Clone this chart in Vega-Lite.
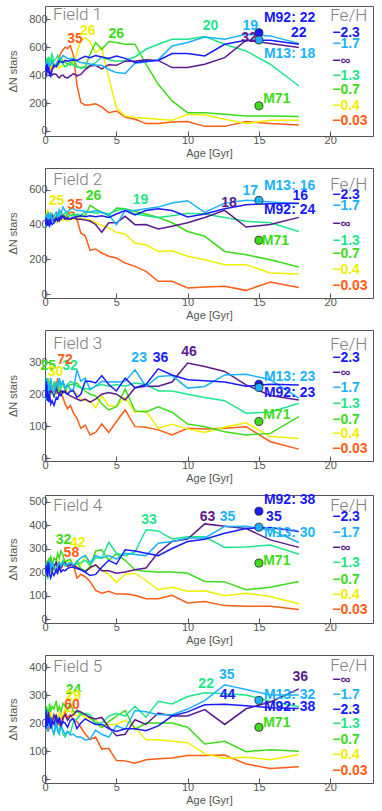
{
"$schema": "https://vega.github.io/schema/vega-lite/v6.json",
"padding": {"left": 7, "right": 0, "top": 5, "bottom": 0},
"background": "white",
"config": {
 "view": {"stroke": "#555", "strokeWidth": 1},
 "concat": {"spacing": 8},
 "axis": {"domain": false, "grid": false, "tickSize": -5, "tickColor": "#555", "labelColor": "#555", "labelFontSize": 11, "labelFont": "Liberation Sans", "titleFont": "Liberation Sans", "titleFontSize": 11, "titleFontWeight": "normal", "titleColor": "#555", "labelPadding": 3, "labelOverlap": false, "labelFlush": false, "labelBound": false},
 "axisX": {"titlePadding": 2},
 "axisY": {"titlePadding": 10}
},
"datasets": {
"L1": [
{"a":0.05,"A":430,"B":470,"C":450,"D":420,"E":440,"F":450,"G":410},
{"a":0.08,"A":470,"B":450,"C":430,"D":480,"E":460,"F":420,"G":440},
{"a":0.1,"A":400,"B":490,"C":460,"D":450,"E":500,"F":470,"G":420},
{"a":0.13,"A":450,"B":460,"C":420,"D":520,"E":470,"F":440,"G":450},
{"a":0.16,"A":480,"B":500,"C":440,"D":470,"E":520,"F":480,"G":430},
{"a":0.2,"A":420,"B":470,"C":450,"D":500,"E":480,"F":460,"G":470},
{"a":0.25,"A":460,"B":450,"C":430,"D":530,"E":530,"F":500,"G":440},
{"a":0.32,"A":400,"B":480,"C":410,"D":480,"E":490,"F":470,"G":460},
{"a":0.4,"A":390,"B":470,"C":420,"D":510,"E":500,"F":450,"G":430},
{"a":0.5,"A":440,"B":500,"C":400,"D":550,"E":510,"F":490,"G":470},
{"a":0.63,"A":470,"B":460,"C":410,"D":500,"E":480,"F":460,"G":450},
{"a":0.79,"A":460,"B":480,"C":405,"D":520,"E":460,"F":480,"G":480},
{"a":0.89,"A":480,"B":490,"C":390,"D":540,"E":470,"F":470,"G":500},
{"a":1.0,"A":500,"B":510,"C":380,"D":510,"E":480,"F":450,"G":530},
{"a":1.12,"A":495,"B":520,"C":395,"D":500,"E":520,"F":460,"G":560},
{"a":1.26,"A":490,"B":540,"C":400,"D":480,"E":500,"F":470,"G":580},
{"a":1.41,"A":505,"B":530,"C":385,"D":460,"E":490,"F":460,"G":600},
{"a":1.58,"A":500,"B":520,"C":380,"D":470,"E":480,"F":480,"G":590},
{"a":1.78,"A":505,"B":515,"C":395,"D":490,"E":470,"F":490,"G":610},
{"a":2.0,"A":510,"B":520,"C":410,"D":470,"E":520,"F":480,"G":540},
{"a":2.24,"A":505,"B":500,"C":395,"D":460,"E":460,"F":560,"G":330},
{"a":2.51,"A":520,"B":490,"C":405,"D":450,"E":455,"F":650,"G":205},
{"a":2.82,"A":535,"B":485,"C":440,"D":455,"E":460,"F":669,"G":185},
{"a":3.16,"A":525,"B":480,"C":465,"D":470,"E":550,"F":640,"G":188},
{"a":3.55,"A":540,"B":470,"C":470,"D":490,"E":633,"F":561,"G":195},
{"a":3.98,"A":530,"B":470,"C":445,"D":530,"E":585,"F":597,"G":172},
{"a":4.47,"A":520,"B":440,"C":475,"D":510,"E":640,"F":382,"G":131},
{"a":5.01,"A":537,"B":418,"C":470,"D":500,"E":633,"F":167,"G":143},
{"a":5.62,"A":520,"B":411,"C":500,"D":505,"E":621,"F":107,"G":100},
{"a":6.31,"A":490,"B":485,"C":500,"D":530,"E":621,"F":96,"G":84},
{"a":7.08,"A":500,"B":494,"C":510,"D":585,"E":478,"F":91,"G":53},
{"a":7.94,"A":505,"B":510,"C":505,"D":621,"E":334,"F":84,"G":53},
{"a":8.91,"A":554,"B":609,"C":454,"D":657,"E":215,"F":76,"G":64},
{"a":10.0,"A":554,"B":633,"C":454,"D":657,"E":131,"F":119,"G":67},
{"a":11.2,"A":537,"B":673,"C":478,"D":676,"E":131,"F":115,"G":33},
{"a":12.6,"A":621,"B":657,"C":525,"D":621,"E":119,"F":84,"G":33},
{"a":14.1,"A":650,"B":692,"C":650,"D":573,"E":107,"F":53,"G":67},
{"a":15.8,"A":650,"B":681,"C":626,"D":478,"E":107,"F":76,"G":53},
{"a":17.8,"A":621,"B":626,"C":597,"D":322,"E":103,"F":76,"G":43}
],
"L2": [
{"a":0.05,"A":400,"B":420,"C":440,"D":410,"E":430,"F":420,"G":430},
{"a":0.08,"A":440,"B":450,"C":410,"D":380,"E":400,"F":460,"G":410},
{"a":0.1,"A":390,"B":400,"C":450,"D":430,"E":460,"F":410,"G":450},
{"a":0.13,"A":420,"B":460,"C":430,"D":400,"E":420,"F":470,"G":420},
{"a":0.16,"A":395,"B":430,"C":460,"D":440,"E":440,"F":430,"G":440},
{"a":0.2,"A":430,"B":410,"C":420,"D":420,"E":470,"F":490,"G":410},
{"a":0.25,"A":400,"B":470,"C":440,"D":390,"E":430,"F":440,"G":460},
{"a":0.32,"A":390,"B":440,"C":410,"D":450,"E":450,"F":420,"G":430},
{"a":0.4,"A":420,"B":460,"C":430,"D":410,"E":420,"F":470,"G":420},
{"a":0.5,"A":400,"B":420,"C":450,"D":440,"E":460,"F":430,"G":450},
{"a":0.63,"A":410,"B":450,"C":420,"D":420,"E":440,"F":450,"G":440},
{"a":0.79,"A":430,"B":470,"C":440,"D":450,"E":430,"F":410,"G":430},
{"a":0.89,"A":420,"B":440,"C":430,"D":430,"E":450,"F":440,"G":460},
{"a":1.0,"A":440,"B":490,"C":420,"D":460,"E":420,"F":460,"G":440},
{"a":1.12,"A":430,"B":460,"C":450,"D":440,"E":440,"F":430,"G":450},
{"a":1.26,"A":450,"B":500,"C":440,"D":450,"E":460,"F":420,"G":460},
{"a":1.41,"A":440,"B":480,"C":430,"D":470,"E":450,"F":440,"G":440},
{"a":1.58,"A":430,"B":470,"C":440,"D":460,"E":440,"F":420,"G":460},
{"a":1.78,"A":435,"B":490,"C":430,"D":450,"E":455,"F":430,"G":470},
{"a":2.0,"A":440,"B":490,"C":440,"D":450,"E":460,"F":430,"G":470},
{"a":2.24,"A":445,"B":480,"C":430,"D":460,"E":450,"F":440,"G":430},
{"a":2.51,"A":450,"B":480,"C":430,"D":455,"E":445,"F":435,"G":351},
{"a":2.82,"A":445,"B":475,"C":425,"D":470,"E":450,"F":430,"G":335},
{"a":3.16,"A":450,"B":470,"C":420,"D":475,"E":510,"F":425,"G":251},
{"a":3.55,"A":445,"B":480,"C":400,"D":465,"E":490,"F":410,"G":259},
{"a":3.98,"A":450,"B":470,"C":355,"D":470,"E":470,"F":395,"G":236},
{"a":4.47,"A":440,"B":455,"C":410,"D":460,"E":450,"F":380,"G":217},
{"a":5.01,"A":460,"B":399,"C":410,"D":480,"E":495,"F":355,"G":207},
{"a":5.62,"A":480,"B":480,"C":447,"D":490,"E":490,"F":345,"G":178},
{"a":6.31,"A":455,"B":480,"C":399,"D":460,"E":475,"F":293,"G":159},
{"a":7.08,"A":480,"B":490,"C":400,"D":450,"E":460,"F":284,"G":130},
{"a":7.94,"A":490,"B":500,"C":374,"D":440,"E":440,"F":245,"G":73},
{"a":8.91,"A":480,"B":523,"C":390,"D":450,"E":410,"F":249,"G":73},
{"a":10.0,"A":443,"B":537,"C":410,"D":465,"E":360,"F":217,"G":35},
{"a":11.2,"A":460,"B":470,"C":440,"D":460,"E":332,"F":197,"G":40},
{"a":12.6,"A":490,"B":523,"C":481,"D":440,"E":245,"F":169,"G":44},
{"a":14.1,"A":514,"B":540,"C":385,"D":418,"E":226,"F":169,"G":21},
{"a":15.8,"A":520,"B":530,"C":400,"D":410,"E":197,"F":121,"G":69},
{"a":17.8,"A":522,"B":520,"C":441,"D":360,"E":155,"F":115,"G":38}
],
"L3": [
{"a":0.05,"A":190,"B":220,"C":210,"D":200,"E":230,"F":210,"G":200},
{"a":0.08,"A":240,"B":200,"C":230,"D":180,"E":190,"F":240,"G":230},
{"a":0.1,"A":200,"B":250,"C":200,"D":230,"E":240,"F":190,"G":190},
{"a":0.13,"A":230,"B":210,"C":220,"D":190,"E":200,"F":230,"G":220},
{"a":0.16,"A":180,"B":240,"C":190,"D":250,"E":220,"F":200,"G":240},
{"a":0.2,"A":210,"B":190,"C":215,"D":210,"E":250,"F":220,"G":200},
{"a":0.25,"A":175,"B":230,"C":200,"D":180,"E":210,"F":250,"G":210},
{"a":0.32,"A":200,"B":210,"C":225,"D":240,"E":190,"F":200,"G":240},
{"a":0.4,"A":170,"B":250,"C":205,"D":200,"E":230,"F":230,"G":205},
{"a":0.5,"A":180,"B":220,"C":210,"D":220,"E":200,"F":210,"G":215},
{"a":0.63,"A":165,"B":200,"C":195,"D":190,"E":240,"F":190,"G":230},
{"a":0.79,"A":190,"B":240,"C":220,"D":230,"E":210,"F":240,"G":200},
{"a":0.89,"A":185,"B":215,"C":205,"D":210,"E":220,"F":205,"G":250},
{"a":1.0,"A":200,"B":250,"C":200,"D":240,"E":200,"F":220,"G":210},
{"a":1.12,"A":195,"B":230,"C":210,"D":220,"E":230,"F":210,"G":200},
{"a":1.26,"A":210,"B":240,"C":205,"D":235,"E":240,"F":200,"G":190},
{"a":1.41,"A":205,"B":220,"C":210,"D":215,"E":210,"F":215,"G":170},
{"a":1.58,"A":200,"B":230,"C":200,"D":230,"E":225,"F":205,"G":155},
{"a":1.78,"A":210,"B":215,"C":195,"D":240,"E":230,"F":210,"G":165},
{"a":2.0,"A":210,"B":215,"C":190,"D":235,"E":230,"F":210,"G":141},
{"a":2.24,"A":190,"B":276,"C":185,"D":225,"E":235,"F":200,"G":125},
{"a":2.51,"A":200,"B":240,"C":180,"D":220,"E":220,"F":185,"G":94},
{"a":2.82,"A":240,"B":250,"C":185,"D":218,"E":210,"F":180,"G":104},
{"a":3.16,"A":240,"B":215,"C":175,"D":215,"E":200,"F":178,"G":73},
{"a":3.55,"A":235,"B":225,"C":185,"D":225,"E":195,"F":158,"G":81},
{"a":3.98,"A":258,"B":240,"C":200,"D":230,"E":170,"F":195,"G":107},
{"a":4.47,"A":230,"B":238,"C":205,"D":225,"E":151,"F":165,"G":81},
{"a":5.01,"A":210,"B":238,"C":200,"D":230,"E":161,"F":162,"G":115},
{"a":5.62,"A":250,"B":240,"C":182,"D":225,"E":216,"F":190,"G":151},
{"a":6.31,"A":220,"B":276,"C":220,"D":235,"E":148,"F":144,"G":99},
{"a":7.08,"A":230,"B":224,"C":225,"D":230,"E":145,"F":148,"G":97},
{"a":7.94,"A":279,"B":255,"C":225,"D":210,"E":161,"F":94,"G":89},
{"a":8.91,"A":260,"B":258,"C":238,"D":210,"E":144,"F":106,"G":73},
{"a":10.0,"A":245,"B":219,"C":297,"D":200,"E":107,"F":92,"G":94},
{"a":11.2,"A":242,"B":224,"C":286,"D":190,"E":99,"F":81,"G":92},
{"a":12.6,"A":238,"B":260,"C":271,"D":180,"E":83,"F":98,"G":94},
{"a":14.1,"A":225,"B":262,"C":229,"D":141,"E":73,"F":111,"G":99},
{"a":15.8,"A":231,"B":245,"C":196,"D":144,"E":78,"F":68,"G":52},
{"a":17.8,"A":229,"B":188,"C":182,"D":172,"E":130,"F":62,"G":29}
],
"L4": [
{"a":0.05,"A":200,"B":230,"C":220,"D":190,"E":210,"F":220,"G":180},
{"a":0.08,"A":230,"B":210,"C":200,"D":220,"E":240,"F":190,"G":210},
{"a":0.1,"A":190,"B":240,"C":230,"D":180,"E":200,"F":230,"G":190},
{"a":0.13,"A":220,"B":200,"C":210,"D":230,"E":230,"F":200,"G":230},
{"a":0.16,"A":180,"B":220,"C":190,"D":200,"E":250,"F":240,"G":200},
{"a":0.2,"A":210,"B":190,"C":240,"D":170,"E":220,"F":210,"G":220},
{"a":0.25,"A":240,"B":230,"C":200,"D":220,"E":260,"F":230,"G":180},
{"a":0.32,"A":190,"B":250,"C":220,"D":240,"E":240,"F":250,"G":210},
{"a":0.4,"A":175,"B":210,"C":230,"D":200,"E":270,"F":220,"G":240},
{"a":0.5,"A":200,"B":240,"C":210,"D":230,"E":230,"F":240,"G":200},
{"a":0.63,"A":185,"B":220,"C":225,"D":210,"E":260,"F":210,"G":230},
{"a":0.79,"A":210,"B":200,"C":240,"D":250,"E":250,"F":230,"G":210},
{"a":0.89,"A":195,"B":230,"C":215,"D":220,"E":280,"F":250,"G":220},
{"a":1.0,"A":220,"B":240,"C":230,"D":240,"E":260,"F":220,"G":240},
{"a":1.12,"A":200,"B":225,"C":220,"D":230,"E":290,"F":240,"G":215},
{"a":1.26,"A":210,"B":240,"C":235,"D":250,"E":270,"F":230,"G":230},
{"a":1.41,"A":205,"B":235,"C":240,"D":225,"E":240,"F":250,"G":240},
{"a":1.58,"A":215,"B":230,"C":225,"D":235,"E":250,"F":245,"G":225},
{"a":1.78,"A":220,"B":240,"C":230,"D":240,"E":255,"F":240,"G":235},
{"a":2.0,"A":220,"B":230,"C":230,"D":230,"E":220,"F":225,"G":230},
{"a":2.24,"A":215,"B":245,"C":220,"D":235,"E":240,"F":250,"G":174},
{"a":2.51,"A":210,"B":260,"C":210,"D":240,"E":215,"F":230,"G":190},
{"a":2.82,"A":200,"B":270,"C":200,"D":250,"E":205,"F":270,"G":180},
{"a":3.16,"A":185,"B":240,"C":220,"D":230,"E":220,"F":215,"G":160},
{"a":3.55,"A":190,"B":270,"C":230,"D":260,"E":290,"F":230,"G":122},
{"a":3.98,"A":220,"B":260,"C":205,"D":260,"E":295,"F":210,"G":110},
{"a":4.47,"A":250,"B":270,"C":205,"D":327,"E":250,"F":190,"G":118},
{"a":5.01,"A":234,"B":255,"C":195,"D":280,"E":278,"F":156,"G":106},
{"a":5.62,"A":295,"B":280,"C":200,"D":270,"E":250,"F":191,"G":106},
{"a":6.31,"A":290,"B":275,"C":210,"D":285,"E":210,"F":195,"G":101},
{"a":7.08,"A":280,"B":270,"C":217,"D":380,"E":203,"F":164,"G":86},
{"a":7.94,"A":270,"B":323,"C":283,"D":375,"E":200,"F":125,"G":86},
{"a":8.91,"A":300,"B":330,"C":330,"D":341,"E":200,"F":135,"G":101},
{"a":10.0,"A":330,"B":345,"C":340,"D":350,"E":195,"F":118,"G":68},
{"a":11.2,"A":340,"B":345,"C":405,"D":350,"E":160,"F":120,"G":75},
{"a":12.6,"A":365,"B":394,"C":395,"D":305,"E":158,"F":99,"G":57},
{"a":14.1,"A":385,"B":395,"C":385,"D":307,"E":125,"F":110,"G":54},
{"a":15.8,"A":390,"B":380,"C":337,"D":315,"E":135,"F":96,"G":54},
{"a":17.8,"A":373,"B":326,"C":305,"D":276,"E":160,"F":65,"G":40}
],
"L5": [
{"a":0.05,"A":180,"B":250,"C":200,"D":220,"E":200,"F":210,"G":170},
{"a":0.08,"A":245,"B":200,"C":250,"D":190,"E":230,"F":240,"G":200},
{"a":0.1,"A":200,"B":230,"C":210,"D":240,"E":210,"F":200,"G":180},
{"a":0.13,"A":230,"B":180,"C":180,"D":200,"E":260,"F":220,"G":220},
{"a":0.16,"A":190,"B":210,"C":230,"D":170,"E":220,"F":190,"G":190},
{"a":0.2,"A":210,"B":170,"C":200,"D":220,"E":250,"F":230,"G":210},
{"a":0.25,"A":200,"B":200,"C":240,"D":190,"E":230,"F":210,"G":170},
{"a":0.32,"A":220,"B":190,"C":190,"D":230,"E":270,"F":200,"G":200},
{"a":0.4,"A":180,"B":220,"C":220,"D":200,"E":240,"F":240,"G":230},
{"a":0.5,"A":210,"B":180,"C":200,"D":180,"E":260,"F":220,"G":190},
{"a":0.63,"A":195,"B":160,"C":230,"D":160,"E":250,"F":200,"G":210},
{"a":0.79,"A":230,"B":200,"C":210,"D":210,"E":280,"F":230,"G":200},
{"a":0.89,"A":200,"B":170,"C":200,"D":180,"E":240,"F":210,"G":220},
{"a":1.0,"A":220,"B":160,"C":215,"D":170,"E":260,"F":240,"G":190},
{"a":1.12,"A":190,"B":190,"C":190,"D":200,"E":240,"F":220,"G":230},
{"a":1.26,"A":205,"B":175,"C":220,"D":160,"E":270,"F":230,"G":210},
{"a":1.41,"A":200,"B":160,"C":230,"D":150,"E":260,"F":250,"G":240},
{"a":1.58,"A":185,"B":170,"C":210,"D":170,"E":250,"F":240,"G":220},
{"a":1.78,"A":210,"B":158,"C":225,"D":165,"E":270,"F":245,"G":230},
{"a":2.0,"A":215,"B":160,"C":230,"D":205,"E":240,"F":230,"G":210},
{"a":2.24,"A":180,"B":150,"C":245,"D":215,"E":240,"F":225,"G":205},
{"a":2.51,"A":200,"B":150,"C":240,"D":230,"E":235,"F":230,"G":185},
{"a":2.82,"A":215,"B":140,"C":230,"D":235,"E":230,"F":220,"G":161},
{"a":3.16,"A":205,"B":143,"C":220,"D":230,"E":220,"F":215,"G":141},
{"a":3.55,"A":195,"B":175,"C":215,"D":200,"E":200,"F":210,"G":150},
{"a":3.98,"A":195,"B":160,"C":220,"D":200,"E":185,"F":185,"G":107},
{"a":4.47,"A":180,"B":150,"C":185,"D":225,"E":205,"F":195,"G":110},
{"a":5.01,"A":170,"B":191,"C":155,"D":235,"E":225,"F":195,"G":66},
{"a":5.62,"A":180,"B":177,"C":160,"D":225,"E":245,"F":210,"G":65},
{"a":6.31,"A":180,"B":245,"C":212,"D":260,"E":177,"F":185,"G":57},
{"a":7.08,"A":173,"B":240,"C":195,"D":221,"E":200,"F":140,"G":69},
{"a":7.94,"A":190,"B":230,"C":236,"D":278,"E":200,"F":140,"G":73},
{"a":8.91,"A":225,"B":230,"C":225,"D":268,"E":200,"F":135,"G":75},
{"a":10.0,"A":240,"B":250,"C":225,"D":295,"E":185,"F":130,"G":84},
{"a":11.2,"A":265,"B":280,"C":248,"D":308,"E":125,"F":90,"G":84},
{"a":12.6,"A":267,"B":337,"C":195,"D":305,"E":135,"F":74,"G":86},
{"a":14.1,"A":262,"B":320,"C":251,"D":300,"E":98,"F":78,"G":54},
{"a":15.8,"A":255,"B":300,"C":275,"D":278,"E":105,"F":69,"G":38},
{"a":17.8,"A":252,"B":300,"C":322,"D":258,"E":99,"F":88,"G":44}
],
"T1": [
{"k":"p","s":"A","a":15,"n":704,"t":""},
{"k":"p","s":"B","a":15,"n":652,"t":""},
{"k":"p","s":"E","a":15,"n":180,"t":""},
{"k":"n","s":"G","a":2.1,"n":660,"t":"35"},
{"k":"n","s":"F","a":3.0,"n":716,"t":"26"},
{"k":"n","s":"E","a":5.0,"n":692,"t":"26"},
{"k":"n","s":"D","a":11.6,"n":752,"t":"20"},
{"k":"n","s":"C","a":14.3,"n":669,"t":"32"},
{"k":"n","s":"B","a":14.4,"n":752,"t":"19"},
{"k":"n","s":"A","a":17.8,"n":704,"t":"22"},
{"k":"c","s":"A","a":15.35,"n":812,"t":"M92: 22"},
{"k":"c","s":"B","a":15.35,"n":554,"t":"M13: 18"},
{"k":"c","s":"E","a":15.3,"n":227,"t":"M71"},
{"k":"l","s":"A","a":20.14,"n":704,"t":"−2.3"},
{"k":"l","s":"B","a":20.14,"n":621,"t":"−1.7"},
{"k":"l","s":"C","a":20.14,"n":501,"t":"−∞"},
{"k":"l","s":"D","a":20.14,"n":394,"t":"−1.3"},
{"k":"l","s":"E","a":20.14,"n":291,"t":"−0.7"},
{"k":"l","s":"F","a":20.14,"n":179,"t":"−0.4"},
{"k":"l","s":"G","a":20.14,"n":72,"t":"−0.03"},
{"k":"h","s":"H","a":20.0,"n":824,"t":"Fe/H"},
{"k":"h","s":"H","a":0.56,"n":831,"t":"Field  1"}
],
"T2": [
{"k":"p","s":"B","a":15,"n":539,"t":""},
{"k":"p","s":"E","a":15,"n":309,"t":""},
{"k":"n","s":"F","a":0.8,"n":533,"t":"25"},
{"k":"n","s":"G","a":2.1,"n":514,"t":"35"},
{"k":"n","s":"E","a":3.4,"n":562,"t":"26"},
{"k":"n","s":"D","a":6.7,"n":543,"t":"19"},
{"k":"n","s":"C","a":12.9,"n":523,"t":"18"},
{"k":"n","s":"B","a":14.4,"n":590,"t":"17"},
{"k":"n","s":"A","a":17.9,"n":565,"t":"16"},
{"k":"c","s":"B","a":15.35,"n":623,"t":"M13: 16"},
{"k":"c","s":"A","a":15.35,"n":485,"t":"M92: 24"},
{"k":"c","s":"E","a":15.2,"n":307,"t":"M71"},
{"k":"l","s":"A","a":20.14,"n":567,"t":"−2.3"},
{"k":"l","s":"B","a":20.14,"n":504,"t":"−1.7"},
{"k":"l","s":"C","a":20.14,"n":403,"t":"−∞"},
{"k":"l","s":"D","a":20.14,"n":303,"t":"−1.3"},
{"k":"l","s":"E","a":20.14,"n":232,"t":"−0.7"},
{"k":"l","s":"F","a":20.14,"n":136,"t":"−0.4"},
{"k":"l","s":"G","a":20.14,"n":48,"t":"−0.03"},
{"k":"h","s":"H","a":20.0,"n":629,"t":"Fe/H"},
{"k":"h","s":"H","a":0.58,"n":657,"t":"Field  2"}
],
"T3": [
{"k":"p","s":"A","a":15,"n":231,"t":""},
{"k":"p","s":"B","a":15,"n":221,"t":""},
{"k":"p","s":"E","a":15,"n":115,"t":""},
{"k":"n","s":"D","a":1.75,"n":289,"t":"32"},
{"k":"n","s":"E","a":0.23,"n":289,"t":"25"},
{"k":"n","s":"F","a":0.73,"n":270,"t":"30"},
{"k":"n","s":"G","a":1.4,"n":307,"t":"72"},
{"k":"n","s":"B","a":6.6,"n":312,"t":"23"},
{"k":"n","s":"A","a":8.1,"n":312,"t":"36"},
{"k":"n","s":"C","a":10.1,"n":331,"t":"46"},
{"k":"c","s":"B","a":15.35,"n":255,"t":"M13: 23"},
{"k":"c","s":"A","a":15.35,"n":203,"t":"M92: 23"},
{"k":"c","s":"E","a":15.3,"n":135,"t":"M71"},
{"k":"l","s":"A","a":20.14,"n":312,"t":"−2.3"},
{"k":"l","s":"C","a":20.14,"n":266,"t":"−∞"},
{"k":"l","s":"B","a":20.14,"n":219,"t":"−1.7"},
{"k":"l","s":"D","a":20.14,"n":170,"t":"−1.3"},
{"k":"l","s":"E","a":20.14,"n":120,"t":"−0.7"},
{"k":"l","s":"F","a":20.14,"n":75,"t":"−0.4"},
{"k":"l","s":"G","a":20.14,"n":28,"t":"−0.03"},
{"k":"h","s":"H","a":20.0,"n":352,"t":"Fe/H"},
{"k":"h","s":"H","a":0.58,"n":356,"t":"Field  3"}
],
"T4": [
{"k":"p","s":"A","a":15,"n":459,"t":""},
{"k":"p","s":"B","a":15,"n":391,"t":""},
{"k":"p","s":"E","a":15,"n":238,"t":""},
{"k":"n","s":"E","a":1.3,"n":337,"t":"32"},
{"k":"n","s":"F","a":2.3,"n":323,"t":"42"},
{"k":"n","s":"G","a":1.85,"n":280,"t":"58"},
{"k":"n","s":"D","a":7.3,"n":422,"t":"33"},
{"k":"n","s":"C","a":11.4,"n":436,"t":"63"},
{"k":"n","s":"B","a":12.8,"n":433,"t":"35"},
{"k":"n","s":"A","a":16.05,"n":436,"t":"35"},
{"k":"c","s":"A","a":15.35,"n":507,"t":"M92: 38"},
{"k":"c","s":"B","a":15.35,"n":368,"t":"M13: 30"},
{"k":"c","s":"E","a":15.3,"n":245,"t":"M71"},
{"k":"l","s":"A","a":20.14,"n":436,"t":"−2.3"},
{"k":"l","s":"B","a":20.14,"n":368,"t":"−1.7"},
{"k":"l","s":"C","a":20.14,"n":302,"t":"−∞"},
{"k":"l","s":"D","a":20.14,"n":238,"t":"−1.3"},
{"k":"l","s":"E","a":20.14,"n":167,"t":"−0.7"},
{"k":"l","s":"F","a":20.14,"n":103,"t":"−0.4"},
{"k":"l","s":"G","a":20.14,"n":40,"t":"−0.03"},
{"k":"h","s":"H","a":20.0,"n":482,"t":"Fe/H"},
{"k":"h","s":"H","a":0.58,"n":482,"t":"Field  4"}
],
"T5": [
{"k":"p","s":"B","a":15,"n":281,"t":""},
{"k":"p","s":"E","a":15,"n":185,"t":""},
{"k":"n","s":"E","a":2.0,"n":319,"t":"24"},
{"k":"n","s":"F","a":2.0,"n":296,"t":"29"},
{"k":"n","s":"G","a":1.9,"n":265,"t":"60"},
{"k":"n","s":"D","a":11.3,"n":340,"t":"22"},
{"k":"n","s":"B","a":12.75,"n":370,"t":"35"},
{"k":"n","s":"A","a":12.8,"n":301,"t":"44"},
{"k":"n","s":"C","a":17.9,"n":364,"t":"36"},
{"k":"c","s":"B","a":15.35,"n":301,"t":"M13: 32"},
{"k":"c","s":"A","a":15.35,"n":257,"t":"M92: 38"},
{"k":"c","s":"E","a":15.3,"n":199,"t":"M71"},
{"k":"l","s":"C","a":20.14,"n":352,"t":"−∞"},
{"k":"l","s":"B","a":20.14,"n":301,"t":"−1.7"},
{"k":"l","s":"A","a":20.14,"n":247,"t":"−2.3"},
{"k":"l","s":"D","a":20.14,"n":197,"t":"−1.3"},
{"k":"l","s":"E","a":20.14,"n":141,"t":"−0.7"},
{"k":"l","s":"F","a":20.14,"n":86,"t":"−0.4"},
{"k":"l","s":"G","a":20.14,"n":30,"t":"−0.03"},
{"k":"h","s":"H","a":20.0,"n":404,"t":"Fe/H"},
{"k":"h","s":"H","a":0.58,"n":400,"t":"Field  5"}
]
},
"vconcat": [
{"width": 328, "height": 130, "layer": [
 {"data": {"name": "L1"}, "transform": [{"fold": ["G","F","E","D","C","B","A"], "as": ["s","n"]}], "mark": {"type": "line", "strokeWidth": 1.5, "clip": true},
  "encoding": {"x": {"field": "a", "type": "quantitative", "scale": {"domain": [0,23], "nice": false, "zero": false}, "axis": {"values": [0,5,10,15,20], "tickCount": 20, "title": "Age [Gyr]", "labelOverlap": false}},
   "y": {"field": "n", "type": "quantitative", "scale": {"domain": [-36,895], "nice": false, "zero": false}, "axis": {"values": [0,200,400,600,800], "tickCount": 20, "title": "ΔN stars", "labelOverlap": false}},
   "color": {"field": "s", "type": "nominal", "scale": {"domain": ["A","B","C","D","E","F","G","H"], "range": ["#1a1aff","#1ab2ff","#5c1a8e","#1ee68a","#3cdc1a","#eef000","#ff5c14","#808080"]}, "legend": null}}},
 {"data": {"name": "T1"}, "transform": [{"filter": "datum.k=='p'"}], "mark": {"type": "point", "filled": true, "size": 65, "stroke": "#202020", "strokeWidth": 0.8, "opacity": 1}, "encoding": {"x": {"field": "a", "type": "quantitative"}, "y": {"field": "n", "type": "quantitative"}, "color": {"field": "s", "type": "nominal"}}},
 {"data": {"name": "T1"}, "transform": [{"filter": "datum.k=='n'"}], "mark": {"type": "text", "font": "Liberation Sans", "fontSize": 14, "fontWeight": "bold", "align": "center", "baseline": "middle"}, "encoding": {"x": {"field": "a", "type": "quantitative"}, "y": {"field": "n", "type": "quantitative"}, "text": {"field": "t"}, "color": {"field": "s", "type": "nominal"}}},
 {"data": {"name": "T1"}, "transform": [{"filter": "datum.k=='c'||datum.k=='l'"}], "mark": {"type": "text", "font": "Liberation Sans", "fontSize": 14, "fontWeight": "bold", "align": "left", "baseline": "middle"}, "encoding": {"x": {"field": "a", "type": "quantitative"}, "y": {"field": "n", "type": "quantitative"}, "text": {"field": "t"}, "color": {"field": "s", "type": "nominal"}}},
 {"data": {"name": "T1"}, "transform": [{"filter": "datum.k=='h'"}], "mark": {"type": "text", "font": "Roboto", "fontWeight": 300, "fontSize": 17, "align": "left", "baseline": "middle"}, "encoding": {"x": {"field": "a", "type": "quantitative"}, "y": {"field": "n", "type": "quantitative"}, "text": {"field": "t"}, "color": {"field": "s", "type": "nominal"}}}
]},
{"width": 328, "height": 130, "layer": [
 {"data": {"name": "L2"}, "transform": [{"fold": ["G","F","E","D","C","B","A"], "as": ["s","n"]}], "mark": {"type": "line", "strokeWidth": 1.5, "clip": true},
  "encoding": {"x": {"field": "a", "type": "quantitative", "scale": {"domain": [0,23], "nice": false, "zero": false}, "axis": {"values": [0,5,10,15,20], "tickCount": 20, "title": "Age [Gyr]", "labelOverlap": false}},
   "y": {"field": "n", "type": "quantitative", "scale": {"domain": [-23,725], "nice": false, "zero": false}, "axis": {"values": [0,200,400,600], "tickCount": 20, "title": "ΔN stars", "labelOverlap": false}},
   "color": {"field": "s", "type": "nominal", "scale": {"domain": ["A","B","C","D","E","F","G","H"], "range": ["#1a1aff","#1ab2ff","#5c1a8e","#1ee68a","#3cdc1a","#eef000","#ff5c14","#808080"]}, "legend": null}}},
 {"data": {"name": "T2"}, "transform": [{"filter": "datum.k=='p'"}], "mark": {"type": "point", "filled": true, "size": 65, "stroke": "#202020", "strokeWidth": 0.8, "opacity": 1}, "encoding": {"x": {"field": "a", "type": "quantitative"}, "y": {"field": "n", "type": "quantitative"}, "color": {"field": "s", "type": "nominal"}}},
 {"data": {"name": "T2"}, "transform": [{"filter": "datum.k=='n'"}], "mark": {"type": "text", "font": "Liberation Sans", "fontSize": 14, "fontWeight": "bold", "align": "center", "baseline": "middle"}, "encoding": {"x": {"field": "a", "type": "quantitative"}, "y": {"field": "n", "type": "quantitative"}, "text": {"field": "t"}, "color": {"field": "s", "type": "nominal"}}},
 {"data": {"name": "T2"}, "transform": [{"filter": "datum.k=='c'||datum.k=='l'"}], "mark": {"type": "text", "font": "Liberation Sans", "fontSize": 14, "fontWeight": "bold", "align": "left", "baseline": "middle"}, "encoding": {"x": {"field": "a", "type": "quantitative"}, "y": {"field": "n", "type": "quantitative"}, "text": {"field": "t"}, "color": {"field": "s", "type": "nominal"}}},
 {"data": {"name": "T2"}, "transform": [{"filter": "datum.k=='h'"}], "mark": {"type": "text", "font": "Roboto", "fontWeight": 300, "fontSize": 17, "align": "left", "baseline": "middle"}, "encoding": {"x": {"field": "a", "type": "quantitative"}, "y": {"field": "n", "type": "quantitative"}, "text": {"field": "t"}, "color": {"field": "s", "type": "nominal"}}}
]},
{"width": 328, "height": 131, "layer": [
 {"data": {"name": "L3"}, "transform": [{"fold": ["G","F","E","D","C","B","A"], "as": ["s","n"]}], "mark": {"type": "line", "strokeWidth": 1.5, "clip": true},
  "encoding": {"x": {"field": "a", "type": "quantitative", "scale": {"domain": [0,23], "nice": false, "zero": false}, "axis": {"values": [0,5,10,15,20], "tickCount": 20, "title": "Age [Gyr]", "labelOverlap": false}},
   "y": {"field": "n", "type": "quantitative", "scale": {"domain": [-8,400], "nice": false, "zero": false}, "axis": {"values": [0,100,200,300], "tickCount": 20, "title": "ΔN stars", "labelOverlap": false}},
   "color": {"field": "s", "type": "nominal", "scale": {"domain": ["A","B","C","D","E","F","G","H"], "range": ["#1a1aff","#1ab2ff","#5c1a8e","#1ee68a","#3cdc1a","#eef000","#ff5c14","#808080"]}, "legend": null}}},
 {"data": {"name": "T3"}, "transform": [{"filter": "datum.k=='p'"}], "mark": {"type": "point", "filled": true, "size": 65, "stroke": "#202020", "strokeWidth": 0.8, "opacity": 1}, "encoding": {"x": {"field": "a", "type": "quantitative"}, "y": {"field": "n", "type": "quantitative"}, "color": {"field": "s", "type": "nominal"}}},
 {"data": {"name": "T3"}, "transform": [{"filter": "datum.k=='n'"}], "mark": {"type": "text", "font": "Liberation Sans", "fontSize": 14, "fontWeight": "bold", "align": "center", "baseline": "middle"}, "encoding": {"x": {"field": "a", "type": "quantitative"}, "y": {"field": "n", "type": "quantitative"}, "text": {"field": "t"}, "color": {"field": "s", "type": "nominal"}}},
 {"data": {"name": "T3"}, "transform": [{"filter": "datum.k=='c'||datum.k=='l'"}], "mark": {"type": "text", "font": "Liberation Sans", "fontSize": 14, "fontWeight": "bold", "align": "left", "baseline": "middle"}, "encoding": {"x": {"field": "a", "type": "quantitative"}, "y": {"field": "n", "type": "quantitative"}, "text": {"field": "t"}, "color": {"field": "s", "type": "nominal"}}},
 {"data": {"name": "T3"}, "transform": [{"filter": "datum.k=='h'"}], "mark": {"type": "text", "font": "Roboto", "fontWeight": 300, "fontSize": 17, "align": "left", "baseline": "middle"}, "encoding": {"x": {"field": "a", "type": "quantitative"}, "y": {"field": "n", "type": "quantitative"}, "text": {"field": "t"}, "color": {"field": "s", "type": "nominal"}}}
]},
{"width": 328, "height": 128, "layer": [
 {"data": {"name": "L4"}, "transform": [{"fold": ["G","F","E","D","C","B","A"], "as": ["s","n"]}], "mark": {"type": "line", "strokeWidth": 1.5, "clip": true},
  "encoding": {"x": {"field": "a", "type": "quantitative", "scale": {"domain": [0,23], "nice": false, "zero": false}, "axis": {"values": [0,5,10,15,20], "tickCount": 20, "title": "Age [Gyr]", "labelOverlap": false}},
   "y": {"field": "n", "type": "quantitative", "scale": {"domain": [-17,528], "nice": false, "zero": false}, "axis": {"values": [0,100,200,300,400,500], "tickCount": 20, "title": "ΔN stars", "labelOverlap": false}},
   "color": {"field": "s", "type": "nominal", "scale": {"domain": ["A","B","C","D","E","F","G","H"], "range": ["#1a1aff","#1ab2ff","#5c1a8e","#1ee68a","#3cdc1a","#eef000","#ff5c14","#808080"]}, "legend": null}}},
 {"data": {"name": "T4"}, "transform": [{"filter": "datum.k=='p'"}], "mark": {"type": "point", "filled": true, "size": 65, "stroke": "#202020", "strokeWidth": 0.8, "opacity": 1}, "encoding": {"x": {"field": "a", "type": "quantitative"}, "y": {"field": "n", "type": "quantitative"}, "color": {"field": "s", "type": "nominal"}}},
 {"data": {"name": "T4"}, "transform": [{"filter": "datum.k=='n'"}], "mark": {"type": "text", "font": "Liberation Sans", "fontSize": 14, "fontWeight": "bold", "align": "center", "baseline": "middle"}, "encoding": {"x": {"field": "a", "type": "quantitative"}, "y": {"field": "n", "type": "quantitative"}, "text": {"field": "t"}, "color": {"field": "s", "type": "nominal"}}},
 {"data": {"name": "T4"}, "transform": [{"filter": "datum.k=='c'||datum.k=='l'"}], "mark": {"type": "text", "font": "Liberation Sans", "fontSize": 14, "fontWeight": "bold", "align": "left", "baseline": "middle"}, "encoding": {"x": {"field": "a", "type": "quantitative"}, "y": {"field": "n", "type": "quantitative"}, "text": {"field": "t"}, "color": {"field": "s", "type": "nominal"}}},
 {"data": {"name": "T4"}, "transform": [{"filter": "datum.k=='h'"}], "mark": {"type": "text", "font": "Roboto", "fontWeight": 300, "fontSize": 17, "align": "left", "baseline": "middle"}, "encoding": {"x": {"field": "a", "type": "quantitative"}, "y": {"field": "n", "type": "quantitative"}, "text": {"field": "t"}, "color": {"field": "s", "type": "nominal"}}}
]},
{"width": 328, "height": 128, "layer": [
 {"data": {"name": "L5"}, "transform": [{"fold": ["G","F","E","D","C","B","A"], "as": ["s","n"]}], "mark": {"type": "line", "strokeWidth": 1.5, "clip": true},
  "encoding": {"x": {"field": "a", "type": "quantitative", "scale": {"domain": [0,23], "nice": false, "zero": false}, "axis": {"values": [0,5,10,15,20], "tickCount": 20, "title": "Age [Gyr]", "labelOverlap": false}},
   "y": {"field": "n", "type": "quantitative", "scale": {"domain": [-14,443], "nice": false, "zero": false}, "axis": {"values": [0,100,200,300,400], "tickCount": 20, "title": "ΔN stars", "labelOverlap": false}},
   "color": {"field": "s", "type": "nominal", "scale": {"domain": ["A","B","C","D","E","F","G","H"], "range": ["#1a1aff","#1ab2ff","#5c1a8e","#1ee68a","#3cdc1a","#eef000","#ff5c14","#808080"]}, "legend": null}}},
 {"data": {"name": "T5"}, "transform": [{"filter": "datum.k=='p'"}], "mark": {"type": "point", "filled": true, "size": 65, "stroke": "#202020", "strokeWidth": 0.8, "opacity": 1}, "encoding": {"x": {"field": "a", "type": "quantitative"}, "y": {"field": "n", "type": "quantitative"}, "color": {"field": "s", "type": "nominal"}}},
 {"data": {"name": "T5"}, "transform": [{"filter": "datum.k=='n'"}], "mark": {"type": "text", "font": "Liberation Sans", "fontSize": 14, "fontWeight": "bold", "align": "center", "baseline": "middle"}, "encoding": {"x": {"field": "a", "type": "quantitative"}, "y": {"field": "n", "type": "quantitative"}, "text": {"field": "t"}, "color": {"field": "s", "type": "nominal"}}},
 {"data": {"name": "T5"}, "transform": [{"filter": "datum.k=='c'||datum.k=='l'"}], "mark": {"type": "text", "font": "Liberation Sans", "fontSize": 14, "fontWeight": "bold", "align": "left", "baseline": "middle"}, "encoding": {"x": {"field": "a", "type": "quantitative"}, "y": {"field": "n", "type": "quantitative"}, "text": {"field": "t"}, "color": {"field": "s", "type": "nominal"}}},
 {"data": {"name": "T5"}, "transform": [{"filter": "datum.k=='h'"}], "mark": {"type": "text", "font": "Roboto", "fontWeight": 300, "fontSize": 17, "align": "left", "baseline": "middle"}, "encoding": {"x": {"field": "a", "type": "quantitative"}, "y": {"field": "n", "type": "quantitative"}, "text": {"field": "t"}, "color": {"field": "s", "type": "nominal"}}}
]}
]
}
